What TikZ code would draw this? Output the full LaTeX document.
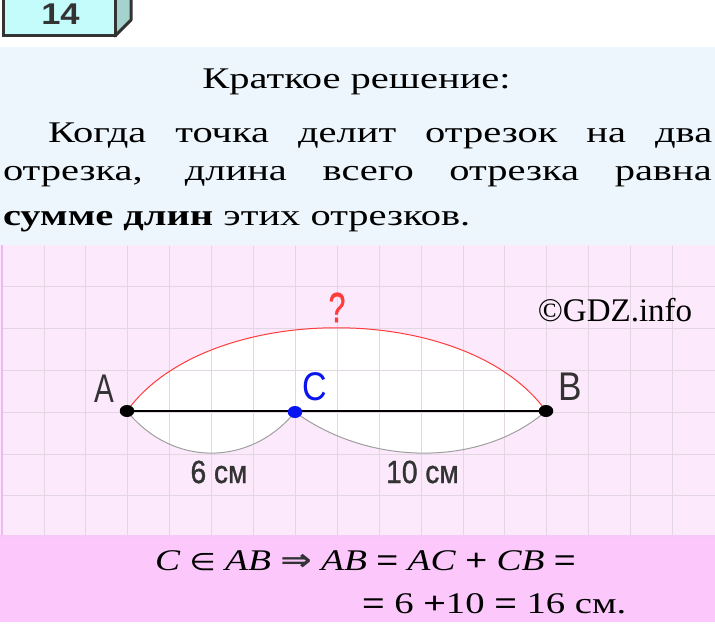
\documentclass[tikz,border=0pt]{standalone}
\usepackage{fontspec}
\usepackage{graphicx}
\usetikzlibrary{shapes.geometric}
\setmainfont{Liberation Serif}
\setsansfont{Liberation Sans}
\newfontfamily\symfont{DejaVu Sans}
\newfontface\labfont{Liberation Sans}[FakeBold=1.2]
\definecolor{textbg}{HTML}{EDF6FC}
\definecolor{diagbg}{HTML}{FCEAFC}
\definecolor{formbg}{HTML}{FCC8FC}
\definecolor{gridc}{HTML}{E2D6E2}
\definecolor{badgefront}{HTML}{C4FCFC}
\definecolor{badgeside}{HTML}{A4D2CC}
\definecolor{labelc}{HTML}{333333}
\definecolor{redarc}{HTML}{FF3C3C}
\definecolor{bluec}{HTML}{0A14F0}
\newcommand{\wide}[1]{\scalebox{1.35}[1]{#1}}
\begin{document}
\begin{tikzpicture}[x=1pt,y=-1pt,
  dot/.style={ellipse,inner sep=0pt,minimum width=14.5pt,minimum height=12pt},
  plain/.style={inner sep=0pt,outer sep=0pt},
  body/.style={plain,font=\fontsize{30}{36}\selectfont},
  lab/.style={plain,anchor=base,font=\fontsize{40}{44}\selectfont\sffamily,text=labelc},
  cmlab/.style={plain,anchor=base,font=\fontsize{32}{34}\selectfont\labfont,text=labelc},
  formula/.style={plain,anchor=base west,font=\fontsize{30}{34}\selectfont}]
\useasboundingbox (0,0) rectangle (715,626);
\fill[white] (0,0) rectangle (715,626);
% bands
\fill[textbg] (0,47) rectangle (715,245);
\fill[diagbg] (0,245) rectangle (715,537);
\fill[formbg] (0,537) rectangle (715,622);
\draw[color={rgb,255:red,240;green,184;blue,240},line width=2] (2,245) -- (2,537);
\draw[color={rgb,255:red,246;green,200;blue,246},line width=2] (0,536) -- (715,536);
% badge
\filldraw[fill=badgeside,draw=labelc,line width=3,line join=round] (115,36) -- (131,20) -- (131,-5) -- (115,-5) -- cycle;
\filldraw[fill=badgefront,draw=labelc,line width=3] (3,-5) rectangle (115,36);
\node[plain,anchor=base,font=\fontsize{30}{30}\selectfont\sffamily\bfseries,text=labelc] (num) at (60.5,24.5) {\scalebox{1.15}[1]{14}};
% text
\node[body,anchor=base] (title) at (356.5,88.5) {\wide{Краткое решение:}};
\node[body,anchor=base west] (l1) at (48,142) {\wide{\makebox[492pt][s]{Когда точка делит отрезок на два}}};
\node[body,anchor=base west] (l2) at (3,180) {\wide{\makebox[525pt][s]{отрезка, длина всего отрезка равна}}};
\node[body,anchor=base west] (l3) at (3,225) {\wide{\textbf{сумме длин} этих отрезков.}};
% points
\coordinate (pA) at (127,411);
\coordinate (pC) at (295,412);
\coordinate (pB) at (546,411);
% white fill of the arcs
\fill[white] (pA) .. controls (207,300) and (466,300) .. (pB) .. controls (482,467) and (370,467) .. (pC) .. controls (250,467) and (172,467) .. (pA) -- cycle;
% grid
\foreach \k in {1,...,16} \draw[gridc,line width=0.7] ({2+41.9*\k},246) -- ({2+41.9*\k},535);
\foreach \yy in {286.3,328.2,370.1,412,453.9,495.8} \draw[gridc,line width=0.7] (3,\yy) -- (715,\yy);
% arcs
\draw[redarc,line width=1] (pA) .. controls (207,300) and (466,300) .. (pB);
\draw[gray!75,line width=1] (pA) .. controls (172,467) and (250,467) .. (pC);
\draw[gray!75,line width=1] (pC) .. controls (370,467) and (482,467) .. (pB);
\draw[black,line width=1.6] (pA) -- (pB);
\node[dot,fill=black] (A) at (pA) {};
\node[dot,fill=bluec] (C) at (pC) {};
\node[dot,fill=black] (B) at (pB) {};
% labels
\node[lab] (lA) at (104,402) {\scalebox{0.74}[1]{A}};
\node[lab,text=bluec] (lC) at (315,400.5) {\scalebox{0.85}[1]{C}};
\node[lab] (lB) at (570,400.5) {\scalebox{0.88}[1]{B}};
\node[lab,text=redarc,font=\fontsize{42}{44}\selectfont\labfont] (lq) at (337,322) {\scalebox{0.72}[1]{?}};
\node[cmlab] (l6) at (219,483) {\scalebox{0.88}[1]{6 см}};
\node[cmlab] (l10) at (422.5,483) {\scalebox{0.88}[1]{10 см}};
\node[plain,anchor=base,font=\fontsize{33}{36}\selectfont,text=black] (copy) at (615,321) {©GDZ.info};
% formula
\node[formula] (f1) at (155,570) {\scalebox{1.25}[1]{\textit{C} {\symfont\fontsize{24}{26}\selectfont ∈} \textit{AB} {\symfont\bfseries\color{labelc}⇒} \textit{AB} {\sffamily=} \textit{AC} {\sffamily+} \textit{CB} {\sffamily=}}};
\node[formula] (f2) at (362,613) {\scalebox{1.29}[1]{{\sffamily=} 6 {\sffamily+}10 {\sffamily=} 16 см.}};
\end{tikzpicture}
\end{document}
